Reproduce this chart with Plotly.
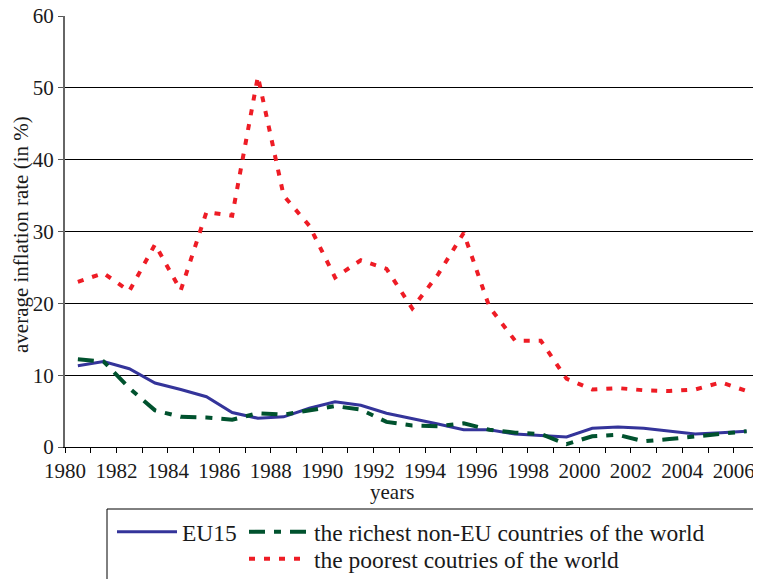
import plotly.graph_objects as go

years = list(range(1980, 2007))
eu15 = [11.3, 11.9, 10.9, 8.9, 8.0, 7.0, 4.8, 4.0, 4.2, 5.4, 6.3, 5.8, 4.7, 4.0,
        3.2, 2.4, 2.4, 1.8, 1.6, 1.4, 2.6, 2.8, 2.6, 2.2, 1.8, 2.0, 2.2]
richest = [12.2, 11.9, 8.2, 5.1, 4.2, 4.1, 3.8, 4.7, 4.5, 5.1, 5.7, 5.2, 3.5, 3.0,
           2.9, 3.3, 2.4, 2.0, 1.8, 0.4, 1.5, 1.7, 0.8, 1.1, 1.5, 1.8, 2.2]
poorest = [23.0, 24.2, 21.7, 28.2, 21.8, 32.7, 32.2, 51.6, 35.0, 30.8, 23.6, 26.0, 24.8, 19.3,
           24.0, 29.8, 19.5, 14.8, 14.8, 9.5, 8.0, 8.2, 7.9, 7.8, 8.0, 9.0, 7.8]
tick_years = list(range(1980, 2007, 2))

names = ["EU15", "the richest non-EU countries of the world", "the poorest coutries of the world"]
x_title = "years"
y_title = "average inflation rate (in %)"

xpos = [y + 0.5 for y in years]
FONT = "Liberation Serif, Times New Roman, serif"
W, H = 761, 579
OFF = 8  # page body margin offset

fig = go.Figure()
fig.add_trace(go.Scatter(x=xpos, y=eu15, mode="lines", name=names[0],
                         line=dict(color="#34349a", width=3), legend="legend"))
fig.add_trace(go.Scatter(x=xpos, y=richest, mode="lines", name=names[1],
                         line=dict(color="#00522e", width=4, dash="16px,9px,7px,9px"),
                         legend="legend2"))
fig.add_trace(go.Scatter(x=xpos, y=poorest, mode="lines", name=names[2],
                         line=dict(color="#ee1c25", width=4, dash="6px,9px"),
                         legend="legend3"))

left, top, bottom = 65 - OFF, 16 - OFF, 447 - OFF
plot_w = W - left
plot_h = bottom - top
PX_PER_YEAR = 25.72


def leg(xr, yr):
    return dict(x=(xr - OFF) / W, y=1 - (yr - OFF) / H, xref="container", yref="container",
                xanchor="left", yanchor="top", bgcolor="rgba(0,0,0,0)",
                font=dict(size=23.5), itemwidth=60)


fig.update_layout(
    width=W, height=H,
    margin=dict(l=left, r=0, t=top, b=H - bottom, autoexpand=False),
    paper_bgcolor="white", plot_bgcolor="white",
    font=dict(family=FONT, size=21, color="#1a1a1a"),
    xaxis=dict(range=[1980, 1980 + plot_w / PX_PER_YEAR], tickvals=tick_years,
               ticktext=[str(t) for t in tick_years], ticklabeloverflow="allow",
               ticks="outside", ticklen=5, tickcolor="black", showgrid=False, tickangle=0,
               showline=True, linecolor="black", linewidth=1,
               minor=dict(dtick=1, tick0=1980, ticks="outside", ticklen=5, tickcolor="black", showgrid=False),
               zeroline=False),
    yaxis=dict(range=[0, 60], dtick=10, ticks="outside", ticklen=5, tickcolor="#555",
               ticklabeloverflow="allow",
               showgrid=True, gridcolor="black", gridwidth=1,
               showline=True, linecolor="#666", linewidth=2, zeroline=False),
    legend=leg(112, 510),
    legend2=leg(244, 510),
    legend3=leg(244, 537),
    showlegend=True,
    annotations=[
        dict(text=x_title, xref="paper", yref="paper", x=(392 - 65) / plot_w,
             y=-(492 - 447) / plot_h, xanchor="center", yanchor="middle",
             showarrow=False, font=dict(size=21)),
        dict(text=y_title, xref="paper", yref="paper", x=0, xshift=-(65 - 21),
             y=(447 - 235) / plot_h, xanchor="center", yanchor="middle", textangle=-90,
             showarrow=False, font=dict(size=21)),
    ],
    shapes=[dict(type="rect", xref="paper", yref="paper",
                 x0=(107 - 65) / plot_w, x1=1.02, y0=-0.4, y1=(447 - 509) / plot_h,
                 line=dict(color="black", width=1), fillcolor="rgba(0,0,0,0)")],
)

fig.write_html("out.html")
